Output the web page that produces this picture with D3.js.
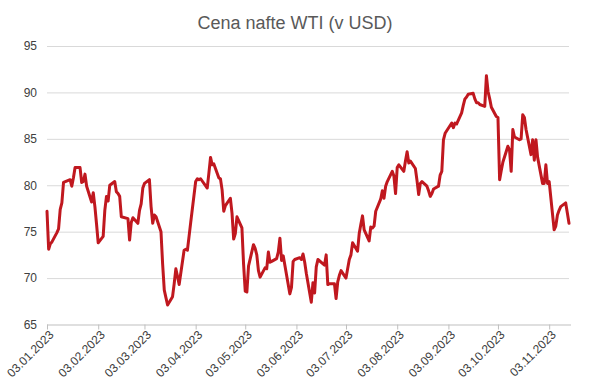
<!DOCTYPE html>
<html>
<head>
<meta charset="utf-8">
<script src="https://cdn.jsdelivr.net/npm/d3@7"></script>
<style>
  html, body { margin: 0; padding: 0; background: #fff; }
  svg { display: block; font-family: "Liberation Sans", Arial, sans-serif; }
</style>
</head>
<body>
<svg id="chart" width="589" height="384"></svg>
<script>
const title = "Cena nafte WTI (v USD)";

const dates = [
  "2023-01-03","2023-01-04","2023-01-05","2023-01-06","2023-01-09","2023-01-10","2023-01-11","2023-01-12","2023-01-13","2023-01-17","2023-01-18","2023-01-19","2023-01-20","2023-01-23","2023-01-24","2023-01-25","2023-01-26","2023-01-27","2023-01-30","2023-01-31",
  "2023-02-01","2023-02-02","2023-02-03","2023-02-06","2023-02-07","2023-02-08","2023-02-09","2023-02-10","2023-02-13","2023-02-14","2023-02-15","2023-02-16","2023-02-17","2023-02-21","2023-02-22","2023-02-23","2023-02-24","2023-02-27","2023-02-28",
  "2023-03-01","2023-03-02","2023-03-03","2023-03-06","2023-03-07","2023-03-08","2023-03-09","2023-03-10","2023-03-13","2023-03-14","2023-03-15","2023-03-16","2023-03-17","2023-03-20","2023-03-21","2023-03-22","2023-03-23","2023-03-24","2023-03-27","2023-03-28","2023-03-29","2023-03-30","2023-03-31",
  "2023-04-03","2023-04-04","2023-04-05","2023-04-06","2023-04-10","2023-04-11","2023-04-12","2023-04-13","2023-04-14","2023-04-17","2023-04-18","2023-04-19","2023-04-20","2023-04-21","2023-04-24","2023-04-25","2023-04-26","2023-04-27","2023-04-28",
  "2023-05-01","2023-05-02","2023-05-03","2023-05-04","2023-05-05","2023-05-08","2023-05-09","2023-05-10","2023-05-11","2023-05-12","2023-05-15","2023-05-16","2023-05-17","2023-05-18","2023-05-19","2023-05-22","2023-05-23","2023-05-24","2023-05-25","2023-05-26","2023-05-30","2023-05-31",
  "2023-06-01","2023-06-02","2023-06-05","2023-06-06","2023-06-07","2023-06-08","2023-06-09","2023-06-12","2023-06-13","2023-06-14","2023-06-15","2023-06-16","2023-06-20","2023-06-21","2023-06-22","2023-06-23","2023-06-26","2023-06-27","2023-06-28","2023-06-29","2023-06-30",
  "2023-07-03","2023-07-05","2023-07-06","2023-07-07","2023-07-10","2023-07-11","2023-07-12","2023-07-13","2023-07-14","2023-07-17","2023-07-18","2023-07-19","2023-07-20","2023-07-21","2023-07-24","2023-07-25","2023-07-26","2023-07-27","2023-07-28","2023-07-31",
  "2023-08-01","2023-08-02","2023-08-03","2023-08-04","2023-08-07","2023-08-08","2023-08-09","2023-08-10","2023-08-11","2023-08-14","2023-08-15","2023-08-16","2023-08-17","2023-08-18","2023-08-21","2023-08-22","2023-08-23","2023-08-24","2023-08-25","2023-08-28","2023-08-29","2023-08-30","2023-08-31",
  "2023-09-01","2023-09-05","2023-09-06","2023-09-07","2023-09-08","2023-09-11","2023-09-12","2023-09-13","2023-09-14","2023-09-15","2023-09-18","2023-09-19","2023-09-20","2023-09-21","2023-09-22","2023-09-25","2023-09-26","2023-09-27","2023-09-28","2023-09-29",
  "2023-10-02","2023-10-03","2023-10-04","2023-10-05","2023-10-06","2023-10-09","2023-10-10","2023-10-11","2023-10-12","2023-10-13","2023-10-16","2023-10-17","2023-10-18","2023-10-19","2023-10-20","2023-10-23","2023-10-24","2023-10-25","2023-10-26","2023-10-27","2023-10-30","2023-10-31",
  "2023-11-01","2023-11-02","2023-11-03","2023-11-06","2023-11-07","2023-11-08","2023-11-09","2023-11-10","2023-11-13","2023-11-14","2023-11-15"
];

const prices = [
  77.2,73.1,73.7,73.9,74.9,75.3,77.4,78.1,80.3,80.6,79.9,80.8,81.9,81.9,80.3,80.4,81.2,79.9,78.2,79.2,
  77.7,75.8,73.8,74.5,77.3,78.8,78.3,80.0,80.4,79.3,79.1,78.8,76.6,76.4,74.1,76.0,76.5,75.9,77.3,
  78.0,79.7,80.2,80.6,77.7,75.9,76.8,76.6,75.0,71.5,68.7,67.9,67.1,68.0,69.4,71.0,70.2,69.3,73.0,73.1,73.0,74.5,76.0,
  80.4,80.7,80.6,80.7,79.7,81.3,83.0,82.2,82.3,80.8,80.7,79.5,77.2,77.8,78.6,77.0,74.2,74.8,76.6,
  75.4,71.5,68.6,68.5,71.3,73.6,73.2,72.5,70.8,70.1,71.1,71.0,72.8,71.7,71.8,72.1,72.8,74.3,71.9,72.4,68.3,69.0,
  71.8,72.0,72.2,72.0,72.6,71.7,70.5,67.4,69.5,68.4,71.2,72.0,71.4,72.5,69.3,69.4,69.4,67.8,69.6,70.3,70.8,
  70.0,72.0,72.5,73.8,72.9,74.8,75.8,76.7,75.2,74.0,75.5,75.4,75.6,77.2,78.5,79.4,78.6,79.9,80.4,81.5,
  81.0,79.1,81.9,82.2,81.5,82.6,83.6,82.4,82.6,81.8,80.5,79.0,80.2,80.4,79.9,79.4,78.8,79.1,79.6,79.9,81.1,81.5,84.9,
  85.6,86.7,86.2,86.7,86.6,87.8,88.6,89.3,89.5,89.8,89.9,89.3,88.9,88.9,88.7,88.5,91.8,90.1,89.3,88.4,
  87.4,87.3,80.6,81.6,82.5,84.2,83.8,81.5,86.0,85.2,84.9,85.0,87.6,87.3,86.0,83.3,84.9,82.7,84.9,83.0,80.2,80.2,
  82.2,80.2,80.4,75.2,75.6,76.8,77.3,77.7,78.1,77.0,75.9
];

const yTicks = [65, 70, 75, 80, 85, 90, 95];
const xTickLabels = ["03.01.2023","03.02.2023","03.03.2023","03.04.2023","03.05.2023","03.06.2023","03.07.2023","03.08.2023","03.09.2023","03.10.2023","03.11.2023"];

const parse = d3.timeParse("%Y-%m-%d");
const parseLabel = d3.timeParse("%d.%m.%Y");
const data = dates.map((d, i) => ({ date: parse(d), value: prices[i] }));

const svg = d3.select("#chart");
const margin = { left: 47, right: 20, top: 46, bottom: 59.5 };
const W = 589, H = 384;

const x = d3.scaleTime()
  .domain([parse("2023-01-03"), parse("2023-11-15")])
  .range([margin.left, W - margin.right]);
const y = d3.scaleLinear()
  .domain([65, 95])
  .range([H - margin.bottom, margin.top]);

// title
svg.append("text")
  .attr("x", 295).attr("y", 29)
  .attr("text-anchor", "middle")
  .attr("font-size", 18)
  .attr("fill", "#595959")
  .text(title);

// grid
const yAxis = d3.axisLeft(y).tickValues(yTicks).tickSize(-(W - margin.left - margin.right)).tickPadding(10);
const gy = svg.append("g").attr("transform", `translate(${margin.left},0)`).call(yAxis);
gy.select(".domain").remove();
gy.selectAll(".tick line").attr("stroke", "#d9d9d9").attr("stroke-width", 1)
  .filter(d => d === 65).remove();
gy.selectAll(".tick text").attr("font-size", 12).attr("fill", "#404040")
  .attr("font-family", "Liberation Sans, Arial, sans-serif");

// x axis
const xAxis = d3.axisBottom(x)
  .tickValues(xTickLabels.map(parseLabel))
  .tickFormat(d3.timeFormat("%d.%m.%Y"))
  .tickSize(5).tickPadding(4).tickSizeOuter(0);
const gx = svg.append("g").attr("transform", `translate(0,${y(65)})`).call(xAxis);
gx.select(".domain").attr("stroke", "#bfbfbf").attr("d", `M${margin.left},0.5H${W - margin.right + 2}`);
gx.selectAll(".tick line").attr("stroke", "#bfbfbf");
gx.selectAll(".tick text")
  .attr("font-size", 12).attr("fill", "#404040")
  .attr("font-family", "Liberation Sans, Arial, sans-serif")
  .attr("text-anchor", "end")
  .attr("dy", "0.35em")
  .attr("transform", "translate(4,8) rotate(-45)")
  .attr("y", 0).attr("x", 0);

// line
const line = d3.line().x(d => x(d.date)).y(d => y(d.value));
svg.append("path")
  .datum(data)
  .attr("fill", "none")
  .attr("stroke", "#c0181f")
  .attr("stroke-width", 3)
  .attr("stroke-linejoin", "round")
  .attr("stroke-linecap", "round")
  .attr("d", line);
</script>
</body>
</html>
